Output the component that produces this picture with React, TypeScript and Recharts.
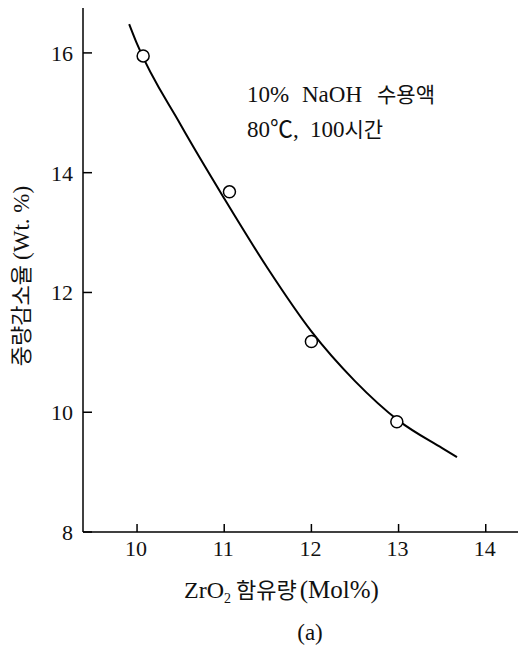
import React from "react";
import { ComposedChart, Line, Scatter, XAxis, YAxis, Customized } from "recharts";

const curveX = [9.91, 10.0, 10.5, 11.0, 11.5, 12.0, 12.5, 13.0, 13.5, 13.67];
const curveY = [16.48, 16.15, 14.8, 13.57, 12.4, 11.35, 10.52, 9.86, 9.4, 9.25];
const pointX = [10.07, 11.06, 12.0, 12.98];
const pointY = [15.95, 13.68, 11.18, 9.84];
const xTicks = [10, 11, 12, 13, 14];
const yTicks = [8, 10, 12, 14, 16];

const curveData = curveX.map((x, i) => ({ x, y: curveY[i] }));
const pointData = pointX.map((x, i) => ({ x, y: pointY[i] }));

const FONT = "'Liberation Serif', 'Noto Sans CJK KR', serif";
const KFONT = "'Noto Sans CJK KR', 'Liberation Serif', sans-serif";

const XTick = (props: any) => {
  const { x, y, payload } = props;
  return (
    <g>
      <line x1={x} x2={x} y1={y} y2={y - 8} stroke="#000" strokeWidth={1.5} />
      <text x={x - 1} y={y + 24} textAnchor="middle" fontFamily={FONT} fontSize={22} fill="#111">
        {payload.value}
      </text>
    </g>
  );
};

const YTick = (props: any) => {
  const { x, y, payload } = props;
  return (
    <g>
      <line x1={x} x2={x + 9} y1={y} y2={y} stroke="#000" strokeWidth={1.5} />
      <text x={x - 10} y={y + 8} textAnchor="end" fontFamily={FONT} fontSize={22} fill="#111">
        {payload.value}
      </text>
    </g>
  );
};

const Texts = () => (
  <g fill="#111">
    <text x={184} y={598} fontFamily={FONT} fontSize={24}>
      ZrO
      <tspan fontSize={14} dy={5}>2</tspan>
      <tspan x={236} dy={-5} fontFamily={KFONT} fontSize={22}>함유량</tspan>
      <tspan dx={3} fontFamily={FONT} fontSize={25}>(Mol%)</tspan>
    </text>
    <text x={310} y={640} textAnchor="middle" fontFamily={FONT} fontSize={23}>(a)</text>
    <text
      transform="translate(29, 276) rotate(-90)"
      x={0}
      y={0}
      textAnchor="middle"
      fontSize={23}
    >
      <tspan fontFamily={KFONT} fontSize={22}>중량감소율</tspan>
      <tspan dx={5} fontFamily={FONT} fontSize={23}>(Wt. %)</tspan>
    </text>
    <text y={102} fontSize={23}>
      <tspan x={247} fontFamily={FONT}>10%</tspan>
      <tspan x={302} fontFamily={FONT}>NaOH</tspan>
      <tspan x={377} fontFamily={KFONT} fontSize={21}>수용액</tspan>
    </text>
    <text y={137} fontSize={23}>
      <tspan x={247} fontFamily={FONT}>80℃,</tspan>
      <tspan x={310} fontFamily={FONT}>100</tspan>
      <tspan fontFamily={KFONT} fontSize={21}>시간</tspan>
    </text>
  </g>
);

const Dot = (p: any) => (
  <circle cx={p.cx} cy={p.cy} r={6} fill="#fff" stroke="#000" strokeWidth={1.5} />
);

export default function App() {
  return (
    <div style={{ position: "absolute", left: 0, top: 0, width: 518, height: 650, background: "#fff" }}>
      <ComposedChart width={518} height={650} margin={{ top: 8, right: 0, bottom: 0, left: 0 }}>
        <XAxis
          type="number"
          dataKey="x"
          domain={[9.38, 14.37]}
          ticks={xTicks}
          height={118}
          tickSize={0}
          tickMargin={0}
          tickLine={false}
          tick={<XTick />}
          axisLine={{ stroke: "#000", strokeWidth: 1.5 }}
          allowDataOverflow
        />
        <YAxis
          type="number"
          dataKey="y"
          domain={[8, 16.75]}
          ticks={yTicks}
          width={83}
          tickSize={0}
          tickMargin={0}
          tickLine={false}
          tick={<YTick />}
          axisLine={{ stroke: "#000", strokeWidth: 1.5 }}
          allowDataOverflow
        />
        <Line
          data={curveData}
          dataKey="y"
          type="monotone"
          stroke="#000"
          strokeWidth={2}
          dot={false}
          activeDot={false}
          isAnimationActive={false}
        />
        <Scatter data={pointData} dataKey="y" shape={<Dot />} isAnimationActive={false} />
        <Customized component={Texts} />
      </ComposedChart>
    </div>
  );
}
